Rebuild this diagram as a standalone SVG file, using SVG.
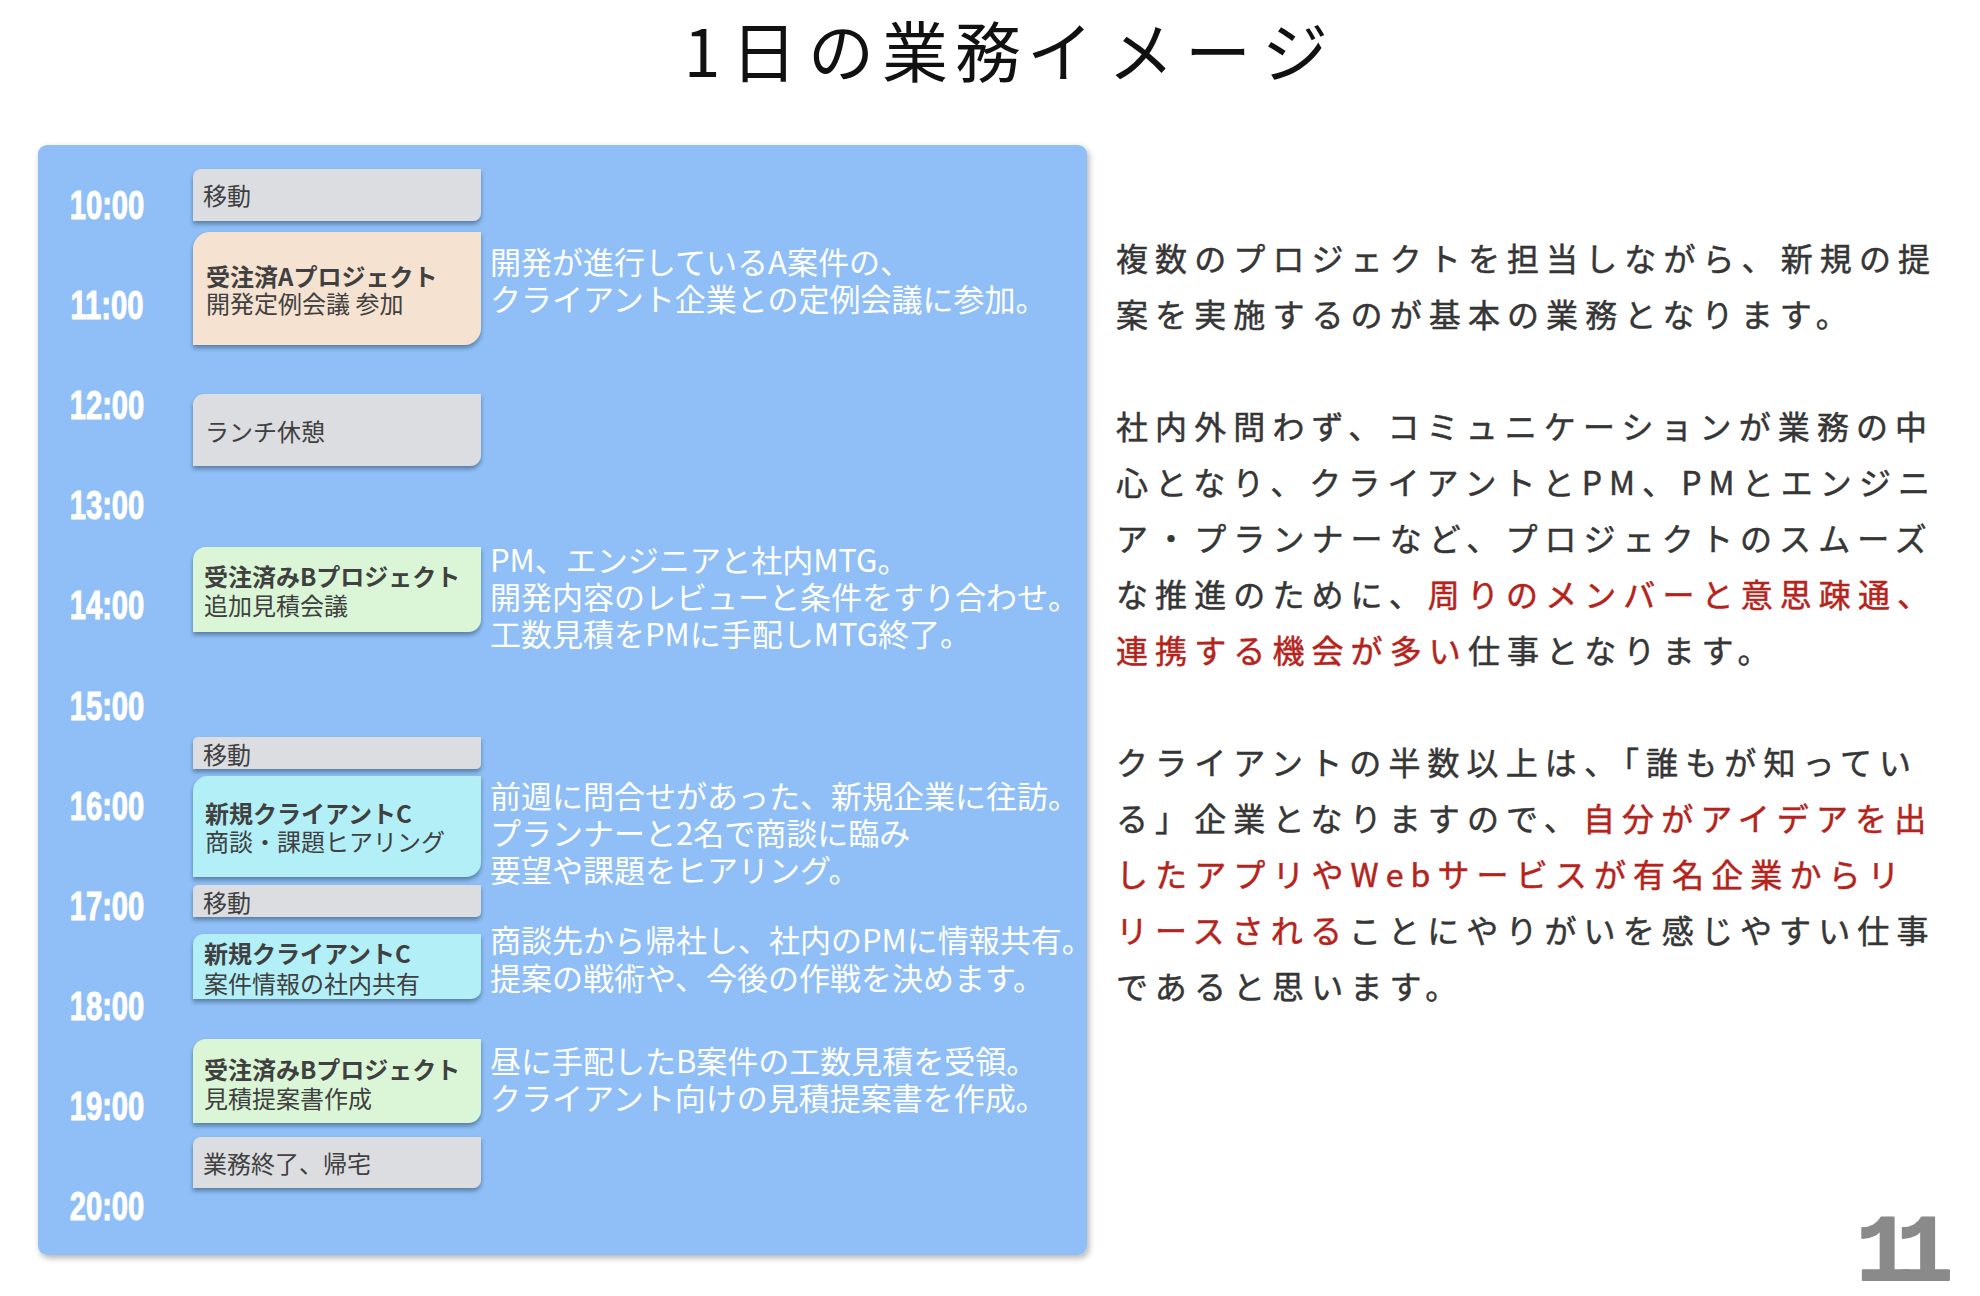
<svg xmlns="http://www.w3.org/2000/svg" width="1980" height="1296" viewBox="0 0 1980 1296">
  <defs>
    <filter id="panelShadow" x="-5%" y="-5%" width="110%" height="110%">
      <feDropShadow dx="2" dy="3" stdDeviation="3" flood-color="#000" flood-opacity="0.3"/>
    </filter>
    <filter id="boxShadow" x="-5%" y="-10%" width="110%" height="130%">
      <feDropShadow dx="0" dy="3" stdDeviation="2" flood-color="#1a2a40" flood-opacity="0.45"/>
    </filter>
  </defs>
  <style>
    .title { font-family: "Noto Sans CJK JP", "Noto Sans", sans-serif; font-size: 66px; font-weight: 400; fill: #111; text-anchor: middle; }
    .time { font-family: "Liberation Sans", Arial, sans-serif; font-size: 40px; font-weight: bold; fill: #fff; stroke: #fff; stroke-width: 1px; text-anchor: middle; }
    .gray { fill: #dcdde0; }
    .peach { fill: #f6e2d1; }
    .green { fill: #daf6d6; }
    .cyan { fill: #b2eff7; }
    .box { filter: url(#boxShadow); }
    .bt { font-family: "Noto Sans CJK JP", "Noto Sans", sans-serif; font-size: 24px; fill: #404040; }
    .bb { font-weight: bold; }
    .desc { font-family: "Noto Sans CJK JP", "Noto Sans", sans-serif; font-size: 31px; fill: #fff; }
    .body { font-family: "Noto Sans CJK JP", "Noto Sans", sans-serif; font-size: 32px; letter-spacing: 7.1px; fill: #363636; stroke: #363636; stroke-width: 0.5px; }
    .red { fill: #b5241c; stroke: #b5241c; }
    .page { font-family: "Liberation Mono", "DejaVu Sans Mono", monospace; font-size: 94px; font-weight: bold; fill: #8a8a8a; stroke: #8a8a8a; stroke-width: 2px; stroke-linejoin: round; letter-spacing: -16px; }
  </style>
  <rect width="1980" height="1296" fill="#ffffff"/>

  <g id="title">
    <text class="title" x="702 764 841 915 988 1060 1141 1218 1295" y="77">1日の業務イメージ</text>
  </g>

  <g id="panel">
    <rect x="38" y="145" width="1049" height="1110" rx="9" ry="9" fill="#8fbff6" filter="url(#panelShadow)"/>
  </g>

  <g id="times">
    <text class="time" transform="translate(107,219) scale(0.73,1)">10:00</text>
    <text class="time" transform="translate(107,319) scale(0.73,1)">11:00</text>
    <text class="time" transform="translate(107,419) scale(0.73,1)">12:00</text>
    <text class="time" transform="translate(107,519) scale(0.73,1)">13:00</text>
    <text class="time" transform="translate(107,619) scale(0.73,1)">14:00</text>
    <text class="time" transform="translate(107,720) scale(0.73,1)">15:00</text>
    <text class="time" transform="translate(107,820) scale(0.73,1)">16:00</text>
    <text class="time" transform="translate(107,920) scale(0.73,1)">17:00</text>
    <text class="time" transform="translate(107,1020) scale(0.73,1)">18:00</text>
    <text class="time" transform="translate(107,1120) scale(0.73,1)">19:00</text>
    <text class="time" transform="translate(107,1220) scale(0.73,1)">20:00</text>
  </g>

  <g id="move1">
    <path class="box gray" d="M201,169 H481 V213 A8,8 0 0 1 473,221 H193 V177 A8,8 0 0 1 201,169 Z"/>
    <text class="bt" x="203" y="205">移動</text>
  </g>

  <g id="projectA">
    <path class="box peach" d="M210,232 H481 V328 A17,17 0 0 1 464,345 H193 V249 A17,17 0 0 1 210,232 Z"/>
    <text class="bt bb" x="206" y="286">受注済Aプロジェクト</text>
    <text class="bt" x="206" y="313">開発定例会議 参加</text>
    <text class="desc" x="490" y="274">開発が進行しているA案件の、</text>
    <text class="desc" x="490" y="311">クライアント企業との定例会議に参加。</text>
  </g>

  <g id="lunch">
    <path class="box gray" d="M204,394 H481 V455 A11,11 0 0 1 470,466 H193 V405 A11,11 0 0 1 204,394 Z"/>
    <text class="bt" x="205" y="441">ランチ休憩</text>
  </g>

  <g id="projectB1">
    <path class="box green" d="M206,547 H481 V619 A13,13 0 0 1 468,632 H193 V560 A13,13 0 0 1 206,547 Z"/>
    <text class="bt bb" x="204" y="586">受注済みBプロジェクト</text>
    <text class="bt" x="204" y="615">追加見積会議</text>
    <text class="desc" x="490" y="572">PM、エンジニアと社内MTG。</text>
    <text class="desc" x="490" y="609">開発内容のレビューと条件をすり合わせ。</text>
    <text class="desc" x="490" y="646">工数見積をPMに手配しMTG終了。</text>
  </g>

  <g id="move2">
    <path class="box gray" d="M198,737 H481 V764 A5,5 0 0 1 476,769 H193 V742 A5,5 0 0 1 198,737 Z"/>
    <text class="bt" x="203" y="764">移動</text>
  </g>

  <g id="clientC1">
    <path class="box cyan" d="M208,776 H481 V862 A15,15 0 0 1 466,877 H193 V791 A15,15 0 0 1 208,776 Z"/>
    <text class="bt bb" x="205" y="823">新規クライアントC</text>
    <text class="bt" x="205" y="851">商談・課題ヒアリング</text>
    <text class="desc" x="490" y="808">前週に問合せがあった、新規企業に往訪。</text>
    <text class="desc" x="490" y="845">プランナーと2名で商談に臨み</text>
    <text class="desc" x="490" y="882">要望や課題をヒアリング。</text>
  </g>

  <g id="move3">
    <path class="box gray" d="M198,885 H481 V912 A5,5 0 0 1 476,917 H193 V890 A5,5 0 0 1 198,885 Z"/>
    <text class="bt" x="203" y="912">移動</text>
  </g>

  <g id="clientC2">
    <path class="box cyan" d="M203,934 H481 V989 A10,10 0 0 1 471,999 H193 V944 A10,10 0 0 1 203,934 Z"/>
    <text class="bt bb" x="204" y="963">新規クライアントC</text>
    <text class="bt" x="204" y="993">案件情報の社内共有</text>
    <text class="desc" x="490" y="952">商談先から帰社し、社内のPMに情報共有。</text>
    <text class="desc" x="490" y="990">提案の戦術や、今後の作戦を決めます。</text>
  </g>

  <g id="projectB2">
    <path class="box green" d="M206,1039 H481 V1110 A13,13 0 0 1 468,1123 H193 V1052 A13,13 0 0 1 206,1039 Z"/>
    <text class="bt bb" x="204" y="1079">受注済みBプロジェクト</text>
    <text class="bt" x="204" y="1108">見積提案書作成</text>
    <text class="desc" x="490" y="1073">昼に手配したB案件の工数見積を受領。</text>
    <text class="desc" x="490" y="1110">クライアント向けの見積提案書を作成。</text>
  </g>

  <g id="goHome">
    <path class="box gray" d="M201,1137 H481 V1180 A8,8 0 0 1 473,1188 H193 V1145 A8,8 0 0 1 201,1137 Z"/>
    <text class="bt" x="203" y="1173">業務終了、帰宅</text>
  </g>

  <g id="connectors"></g>

  <g id="explanation">
    <text class="body" x="1116" y="271">複数のプロジェクトを担当しながら、新規の提</text>
    <text class="body" x="1116" y="327">案を実施するのが基本の業務となります。</text>
    <text class="body" x="1116" y="439">社内外問わず、コミュニケーションが業務の中</text>
    <text class="body" x="1116" y="495">心となり、クライアントとPM、PMとエンジニ</text>
    <text class="body" x="1116" y="551">ア・プランナーなど、プロジェクトのスムーズ</text>
    <text class="body" x="1116" y="607">な推進のために、<tspan class="red">周りのメンバーと意思疎通、</tspan></text>
    <text class="body" x="1116" y="663"><tspan class="red">連携する機会が多い</tspan>仕事となります。</text>
    <text class="body" x="1116" y="775">クライアントの半数以上は、「誰もが知ってい</text>
    <text class="body" x="1116" y="831">る」企業となりますので、<tspan class="red">自分がアイデアを出</tspan></text>
    <text class="body" x="1116" y="887"><tspan class="red">したアプリやWebサービスが有名企業からリ</tspan></text>
    <text class="body" x="1116" y="943"><tspan class="red">リースされる</tspan>ことにやりがいを感じやすい仕事</text>
    <text class="body" x="1116" y="999">であると思います。</text>
  </g>

  <g id="pageNumber">
    <text class="page" x="1856" y="1280">11</text>
  </g>
</svg>
